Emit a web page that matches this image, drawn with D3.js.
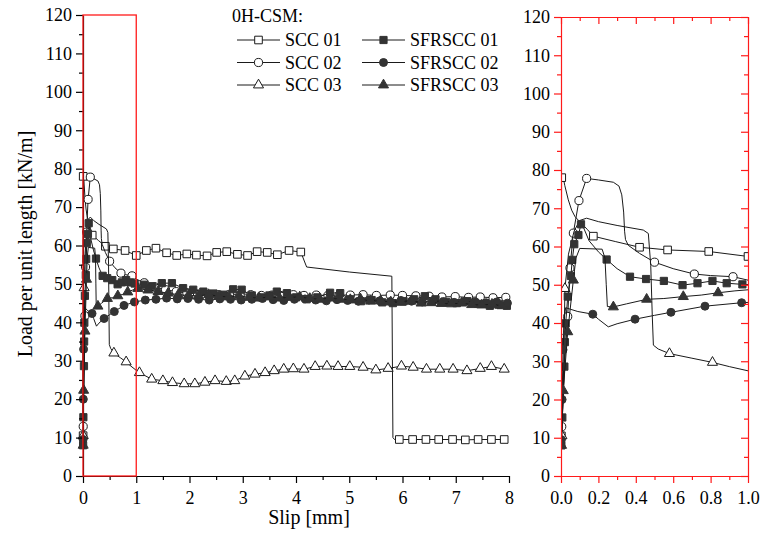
<!DOCTYPE html>
<html><head><meta charset="utf-8">
<script src="https://cdn.jsdelivr.net/npm/d3@7"></script>
<style>body{margin:0;background:#fff}svg text{font-family:"Liberation Serif";}</style>
</head><body><svg id="c" width="763" height="535" font-family="Liberation Serif"></svg>
<script>
// ---------- DATA (slip [mm], load [kN/m]) ----------
const legendTitle = "0H-CSM:";
const seriesNames = ["SCC 01","SCC 02","SCC 03","SFRSCC 01","SFRSCC 02","SFRSCC 03"];

// line-only points
const scc01Line = [[0.001,9],[0.002,40],[0.003,79],[0.01,78.5],[0.02,76],[0.039,72.2],[0.057,69.5],[0.075,67.8],[0.1,66.5],[0.14,64.5],[0.29,61.3],[4.2,54.4],[5.0,53.1],[5.8,52],[5.82,10],[5.85,9.5]];
// marker points (also on the line)
const scc01Marks = [[0.002,10.5],[0.004,78],[0.173,62.7],[0.42,59.8],[0.57,59.1],[0.79,58.7],[1.0,57.4],[1.19,58.7],[1.37,59.3],[1.57,58.1],[1.76,57.4],[1.95,57.8],[2.13,57.5],[2.33,57.3],[2.51,58.2],[2.70,58.4],[2.90,57.7],[3.09,57.4],[3.27,58.4],[3.46,58.2],[3.65,57.6],[3.87,58.7],[4.09,58.3],[5.94,9.5],[6.19,9.5],[6.44,9.5],[6.68,9.5],[6.94,9.5],[7.18,9.4],[7.42,9.5],[7.67,9.5],[7.91,9.5]];

const scc02Line = [[0.002,9],[0.02,30],[0.2,77.4],[0.28,76.8],[0.31,75.8],[0.325,73.5],[0.335,69],[0.34,64],[0.345,61.8],[0.36,60.3],[0.42,58.2],[0.6,54.2],[0.8,52.4],[1.0,51.2]];
const scc02Marks = [[0.004,12.9],[0.036,41.7],[0.048,54.4],[0.066,63.5],[0.096,72],[0.137,77.8],[0.5,55.9],[0.713,52.8],[0.92,52.1],[1.15,50.3],[1.35,49.2],[1.55,48.5],[1.75,48],[1.95,47.6],[2.15,47.4],[2.35,47.3],[2.55,47.2],[2.75,47.3],[2.95,47.1],[3.15,47.2],[3.35,47],[3.55,47.1],[3.75,47],[3.95,47.2],[4.15,47],[4.38,47.1],[4.6,47],[4.81,47.1],[5.02,47.1],[5.26,47.2],[5.51,47],[5.77,47.1],[6.0,47],[6.25,46.9],[6.5,46.8],[6.74,46.6],[6.99,46.7],[7.24,46.5],[7.46,46.6],[7.7,46.4],[7.94,46.5]];

const scc03Line = [[0.003,8],[0.015,30],[0.04,58],[0.07,64],[0.1,66.8],[0.137,67.4],[0.2,66.5],[0.3,65.5],[0.44,64.3],[0.467,63.4],[0.48,55],[0.488,42],[0.494,34.2],[0.52,33.2],[0.7,30.8],[0.9,28.6],[1.0,27.5]];
const scc03Marks = [[0.005,10.5],[0.021,49],[0.58,32],[0.81,29.7],[1.06,26.9],[1.29,25.2],[1.50,24.8],[1.68,24.3],[1.90,24.0],[2.10,24.0],[2.29,24.4],[2.48,24.8],[2.69,24.6],[2.85,24.8],[3.04,26.0],[3.23,26.5],[3.42,26.9],[3.59,27.4],[3.77,27.8],[3.95,27.9],[4.15,27.8],[4.36,28.5],[4.58,28.6],[4.79,28.5],[5.01,28.5],[5.26,28.3],[5.50,27.6],[5.73,28.0],[5.98,28.6],[6.20,28.3],[6.45,27.8],[6.70,27.8],[6.95,27.8],[7.21,27.4],[7.46,28.0],[7.67,28.5],[7.91,27.8]];

const sfr01Line = [[0.12,65],[0.15,61.5],[0.2,58.6],[0.3,54.2]];
const sfr01Marks = [[0.002,8],[0.007,15.3],[0.018,28.6],[0.021,35],[0.025,39.9],[0.036,46.9],[0.053,52.3],[0.06,56.5],[0.071,60.6],[0.093,63],[0.107,65.8],[0.244,56.6],[0.369,52.1],[0.455,51.5],[0.55,51],[0.65,49.9],[0.73,50.4],[0.81,51],[0.886,50.4],[0.97,50.1],[1.15,49.8],[1.3,49.4],[1.48,50.2],[1.67,50.2],[1.88,48.9],[2.07,48.5],[2.26,48],[2.45,47.5],[2.64,47.2],[2.82,48.6],[2.98,48.5],[3.17,47],[3.36,46.5],[3.5,47],[3.64,48],[3.83,47.6],[4.0,46.5],[4.2,46],[4.4,46.5],[4.64,47.7],[4.83,47.6],[5.02,46],[5.22,45.5],[5.42,45.8],[5.62,45.2],[5.82,45],[6.02,45.5],[6.22,46],[6.42,46.8],[6.62,46],[6.82,45.3],[7.02,45],[7.22,45.5],[7.42,44.8],[7.64,44.3],[7.8,44.6],[7.96,44.3]];

const sfr02Line = [[0.016,41],[0.025,44],[0.05,43.6],[0.09,43],[0.2,41],[0.253,39],[0.3,39.8],[0.5,42]];
const sfr02Marks = [[0.002,9.5],[0.006,20],[0.011,33],[0.17,42.3],[0.396,41],[0.588,42.8],[0.77,44.4],[0.966,45.3],[1.17,45.8],[1.37,46],[1.57,46.3],[1.77,46.1],[1.97,46.2],[2.17,46],[2.37,45.8],[2.57,46.1],[2.77,46],[2.97,45.8],[3.17,46],[3.37,46.2],[3.57,45.9],[3.77,45.7],[3.97,46],[4.17,46.1],[4.37,45.8],[4.57,45.6],[4.77,45.9],[4.97,45.7],[5.17,45.5],[5.37,45.8],[5.57,45.6],[5.77,45.4],[5.97,45.7],[6.17,45.5],[6.37,45.3],[6.57,45.6],[6.77,45.4],[6.97,45.2],[7.17,45.5],[7.37,45.3],[7.57,45.1],[7.77,45.3],[7.97,45]];

const sfr03Line = [[0.08,57],[0.1,59.5],[0.22,59.3],[0.235,57],[0.242,50],[0.248,44.3],[0.35,45],[0.55,46.4],[0.75,47.3],[0.93,48.4]];
const sfr03Marks = [[0.003,8],[0.012,22.3],[0.036,37.7],[0.066,51.2],[0.28,44.2],[0.458,46.2],[0.654,46.9],[0.84,47.9],[1.03,48.8],[1.22,48.4],[1.41,48],[1.6,47.6],[1.79,47.2],[1.98,47],[2.17,46.9],[2.36,47.2],[2.55,46.8],[2.74,46.6],[2.93,46.9],[3.12,46.5],[3.31,46.3],[3.5,46.6],[3.69,46.3],[3.88,46.5],[4.07,46.6],[4.26,46.2],[4.45,46],[4.64,46.3],[4.83,46],[5.02,45.9],[5.21,46.1],[5.4,45.5],[5.59,45.6],[5.78,45.3],[5.97,45.2],[6.16,45.5],[6.35,45],[6.54,45.1],[6.73,44.9],[6.92,44.8],[7.11,45],[7.3,44.6],[7.49,44.5],[7.68,44.7],[7.87,44.3]];

const yTicks = [0,10,20,30,40,50,60,70,80,90,100,110,120];
const xTicksMain = [0,1,2,3,4,5,6,7,8];
const xTicksZoom = [0,0.2,0.4,0.6,0.8,1.0];

// ---------- SETUP ----------
const svg = d3.select("#c");
const FF = "Liberation Serif";
const FONT = 18;
const lineCol = "#1a1a1a", fillCol = "#333";
const red = "#ff1a1a";

const series = [
  {name:seriesNames[0], line:scc01Line, marks:scc01Marks, sym:d3.symbolSquare, size:58, filled:false},
  {name:seriesNames[1], line:scc02Line, marks:scc02Marks, sym:d3.symbolCircle, size:52, filled:false},
  {name:seriesNames[2], line:scc03Line, marks:scc03Marks, sym:d3.symbolTriangle, size:44, filled:false},
  {name:seriesNames[3], line:sfr01Line, marks:sfr01Marks, sym:d3.symbolSquare, size:52, filled:true},
  {name:seriesNames[4], line:sfr02Line, marks:sfr02Marks, sym:d3.symbolCircle, size:50, filled:true},
  {name:seriesNames[5], line:sfr03Line, marks:sfr03Marks, sym:d3.symbolTriangle, size:44, filled:true}
];

const xL = d3.scaleLinear([0,8],[83,509]);
const yL = d3.scaleLinear([0,120],[476,15]);
const xR = d3.scaleLinear([0,1],[561,748]);
const yR = d3.scaleLinear([0,120],[476,17]);

const defs = svg.append("defs");
defs.append("clipPath").attr("id","clipL").append("rect")
  .attr("x",xL(0)-6).attr("y",yL(120)).attr("width",xL(8)-xL(0)+12).attr("height",yL(0)-yL(120));
defs.append("clipPath").attr("id","clipR").append("rect")
  .attr("x",xR(0)).attr("y",yR(120)).attr("width",xR(1)-xR(0)).attr("height",yR(0)-yR(120));

function drawSeries(g, x, y, clipId){
  const gg = g.append("g").attr("clip-path",`url(#${clipId})`);
  series.forEach(s=>{
    const pts = s.line.concat(s.marks).sort((a,b)=>a[0]-b[0]);
    gg.append("path").datum(pts)
      .attr("d", d3.line().x(d=>x(d[0])).y(d=>y(d[1])))
      .attr("fill","none").attr("stroke",lineCol).attr("stroke-width",1);
    gg.selectAll(null).data(s.marks).join("path")
      .attr("transform", d=>`translate(${x(d[0])},${y(d[1])})`)
      .attr("d", d3.symbol(s.sym, s.size)())
      .attr("fill", s.filled ? fillCol : "#fff")
      .attr("stroke", s.filled ? fillCol : lineCol).attr("stroke-width",1);
  });
}

function styleAxis(g, tickCol, domainCol){
  g.attr("font-family",FF).attr("font-size",FONT);
  g.selectAll(".tick line").attr("stroke",tickCol).attr("stroke-width",1.2);
  g.select(".domain").attr("stroke",domainCol || "none").attr("stroke-width",1.2);
  g.selectAll("text").attr("font-size",FONT).attr("fill","#000").attr("font-family",FF);
}

// ---------- LEFT PANEL ----------
const gL = svg.append("g");
drawSeries(gL, xL, yL, "clipL");

let a = gL.append("g").attr("transform",`translate(${xL(0)},0)`)
  .call(d3.axisLeft(yL).tickValues(d3.range(5,120,10)).tickSize(4).tickFormat(""));
styleAxis(a,"#000");
a = gL.append("g").attr("transform",`translate(0,${yL(0)})`)
  .call(d3.axisBottom(xL).tickValues(d3.range(0.5,8,1)).tickSize(4).tickFormat(""));
styleAxis(a,"#000");
a = gL.append("g").attr("transform",`translate(${xL(0)},0)`)
  .call(d3.axisLeft(yL).tickValues(yTicks).tickSize(7).tickPadding(4).tickSizeOuter(0));
styleAxis(a,"#000","#000");
a = gL.append("g").attr("transform",`translate(0,${yL(0)})`)
  .call(d3.axisBottom(xL).tickValues(xTicksMain).tickSize(7).tickPadding(8).tickSizeOuter(0));
styleAxis(a,"#000","#000");

gL.append("rect").attr("x",xL(0)).attr("y",yL(120))
  .attr("width",xL(1)-xL(0)).attr("height",yL(0)-yL(120))
  .attr("fill","none").attr("stroke",red).attr("stroke-width",1.3);

svg.append("text").attr("x",309).attr("y",524).attr("text-anchor","middle")
  .attr("font-family",FF).attr("font-size",20).text("Slip [mm]");
svg.append("text").attr("transform","translate(32,244) rotate(-90)").attr("text-anchor","middle")
  .attr("font-family",FF).attr("font-size",20).text("Load per unit length [kN/m]");

// ---------- RIGHT PANEL ----------
const gR = svg.append("g");
drawSeries(gR, xR, yR, "clipR");

a = gR.append("g").attr("transform",`translate(${xR(0)},0)`)
  .call(d3.axisLeft(yR).tickValues(d3.range(5,120,10)).tickSize(4).tickFormat(""));
styleAxis(a,red);
a = gR.append("g").attr("transform",`translate(${xR(1)},0)`)
  .call(d3.axisRight(yR).tickValues(d3.range(5,120,10)).tickSize(-4).tickFormat(""));
styleAxis(a,red);
a = gR.append("g").attr("transform",`translate(0,${yR(0)})`)
  .call(d3.axisBottom(xR).tickValues(d3.range(0.1,1,0.2)).tickSize(4).tickFormat(""));
styleAxis(a,red);
a = gR.append("g").attr("transform",`translate(0,${yR(120)})`)
  .call(d3.axisTop(xR).tickValues(d3.range(0.1,1,0.2)).tickSize(-4).tickFormat(""));
styleAxis(a,red);

a = gR.append("g").attr("transform",`translate(${xR(0)},0)`)
  .call(d3.axisLeft(yR).tickValues(yTicks).tickSize(7).tickPadding(4).tickSizeOuter(0));
styleAxis(a,red,red);
a = gR.append("g").attr("transform",`translate(${xR(1)},0)`)
  .call(d3.axisRight(yR).tickValues(yTicks).tickSize(-7).tickSizeOuter(0).tickFormat(""));
styleAxis(a,red,red);
a = gR.append("g").attr("transform",`translate(0,${yR(0)})`)
  .call(d3.axisBottom(xR).tickValues(xTicksZoom).tickSize(7).tickPadding(8).tickSizeOuter(0).tickFormat(d3.format(".1f")));
styleAxis(a,red,red);
a = gR.append("g").attr("transform",`translate(0,${yR(120)})`)
  .call(d3.axisTop(xR).tickValues(xTicksZoom).tickSize(-7).tickSizeOuter(0).tickFormat(""));
styleAxis(a,red,red);

// ---------- LEGEND ----------
const lg = svg.append("g");
lg.append("text").attr("x",232).attr("y",22).attr("font-family",FF).attr("font-size",FONT).text(legendTitle);
const colX = [237, 362], rowY = [40, 62.5, 85];
series.forEach((s,i)=>{
  const cx = colX[Math.floor(i/3)], cy = rowY[i%3];
  lg.append("line").attr("x1",cx).attr("x2",cx+43).attr("y1",cy).attr("y2",cy)
    .attr("stroke",lineCol).attr("stroke-width",1);
  lg.append("path").attr("transform",`translate(${cx+21.5},${cy})`)
    .attr("d", d3.symbol(s.sym, s.size)())
    .attr("fill", s.filled ? fillCol : "#fff")
    .attr("stroke", s.filled ? fillCol : lineCol);
  lg.append("text").attr("x",cx+48).attr("y",cy+6).attr("font-family",FF).attr("font-size",FONT).text(s.name);
});
</script></body></html>
